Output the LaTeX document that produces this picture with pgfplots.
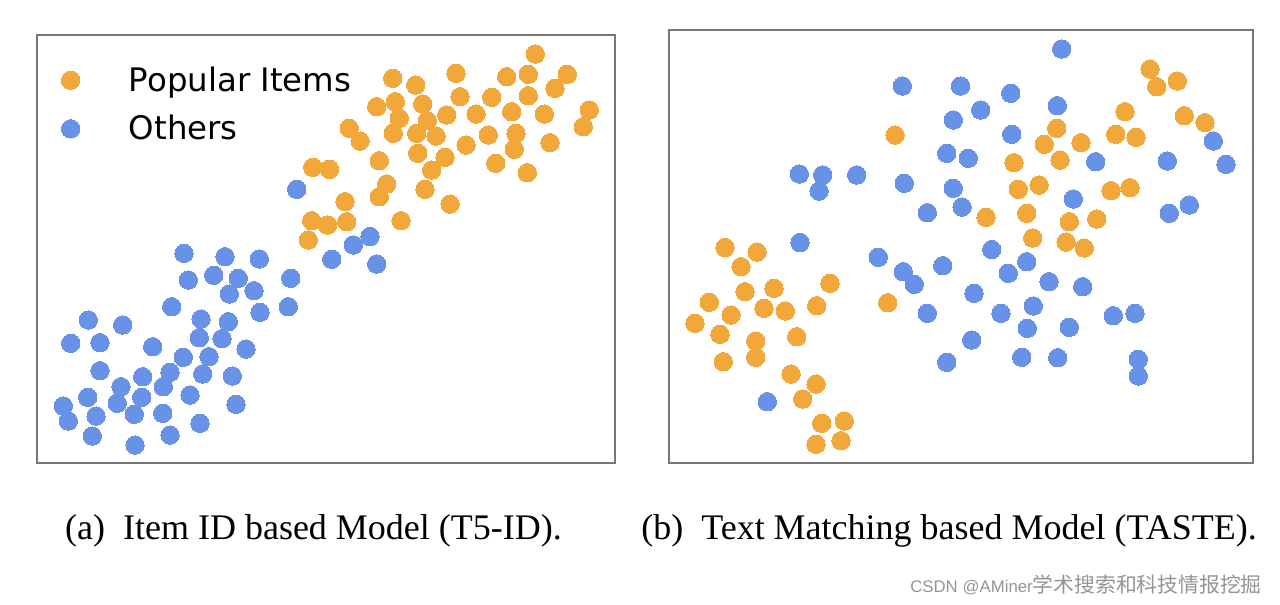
\documentclass[border=0pt]{standalone}
\usepackage{pgfplots}
\pgfplotsset{compat=1.18}
\usepackage{fontspec}
\setmainfont{Liberation Serif}
\newfontfamily\dejavu{DejaVu Sans}
\newfontfamily\arial{Liberation Sans}
\newfontfamily\cjk{Noto Sans CJK SC}
\definecolor{popC}{RGB}{241,167,57}
\definecolor{othC}{RGB}{104,146,232}
\definecolor{frameC}{RGB}{120,120,120}
\pgfplotsset{
  panel/.style={
    scale only axis, y dir=reverse,
    xtick=\empty, ytick=\empty,
    axis line style={frameC, line width=1pt},
    clip=false,
  },
  pop/.style={color=popC, only marks, mark=*, mark size=4.6pt,
    mark options={solid, fill=popC, draw=popC, line width=0pt}},
  oth/.style={color=othC, only marks, mark=*, mark size=4.6pt,
    mark options={solid, fill=othC, draw=othC, line width=0pt}},
}
\begin{document}
\begin{tikzpicture}
\useasboundingbox (0pt,0pt) rectangle (640pt,-302.5pt);
% ---------- panel (a) ----------
\begin{axis}[panel,
  anchor=north west, at={(18.5pt,-17.5pt)},
  width=289pt, height=214pt,
  xmin=37, xmax=615, ymin=35, ymax=463,
  legend style={at={(axis cs:55,58)}, anchor=north west, draw=none, fill=none,
    font=\dejavu\fontsize{16.2}{19}\selectfont, row sep=6.5pt,
    /tikz/every odd column/.append style={column sep=22.5pt}},
  legend cell align=left,
]
\addplot[pop] coordinates {
(312.7,167.3) (329.5,169.3) (311.7,220.7) (327.5,225) (308.3,240)
(535.3,54) (456,73.3) (506.7,76.7) (528.3,74.3) (567.3,74.3) (392.7,78.3) (415.7,85)
(555,88.3) (460,96.7) (491.7,97.3) (528.3,95.7) (376.7,106.7) (395.3,101.7) (422.7,104)
(446.7,115) (476,114) (511.7,111.7) (544.3,114) (589.3,110) (399.3,118.3) (427.3,120.7)
(583.3,126.7) (349.3,128.3) (360,141) (393.3,133.3) (416.7,133.3) (436,136) (466,145)
(488.3,135) (516,133.3) (514.3,149.3) (550,142.7) (379.3,160.7) (417.7,153.3) (445,157.3)
(431.7,170) (495.7,163.3) (527.3,172.7) (386.7,184) (379.3,196.7) (425,189.3) (450,204)
(345,201.7) (346.7,221.7) (401,220.7)
};
\addlegendentry{Popular Items}
\addplot[oth] coordinates {
(296.7,189.3) (370,236.5) (353.3,245) (331.7,259.3) (376.7,264)
(184,253.3) (225,256.7) (259.3,259) (188.3,280) (213.7,275.3) (238.3,278.3) (290.7,278.3)
(229.3,294) (254,290.7) (171.7,306.7) (260,312.3) (288.3,306.7) (88.3,320) (122.7,325)
(201,319) (228.3,321.7) (70.7,343.3) (100,342.7) (152.7,346.7) (199.3,337.7) (222,338.7)
(246,349) (183.3,357.3) (209,356.7) (100,370.7) (142.7,376.7) (170,372.3) (202.7,374)
(232.3,376) (121,386.7) (163.3,386.7) (87.7,397.3) (141.7,397.3) (190,395) (117.3,403.3)
(63.3,406) (96,416) (134.3,414.3) (162.7,413.3) (236,404.3) (68.3,421) (200,423.3)
(92.3,436) (170,435) (135,445)
};
\addlegendentry{Others}
\end{axis}
% ---------- panel (b) ----------
\begin{axis}[panel,
  anchor=north west, at={(334.5pt,-15pt)},
  width=291.75pt, height=216.5pt,
  xmin=669, xmax=1252.5, ymin=30, ymax=463,
]
\addplot[pop] coordinates {
(895,135) (725,247.5) (757,252) (1150,69) (1156.7,86.7) (1177.3,81) (1125,111.7)
(1184.3,115.7) (1205,122.7) (1056.7,128.3) (1115.7,134.3) (1136,137.3) (1044.3,144.3)
(1081,142.7) (1014,162.7) (1060,160) (1018.3,189.3) (1039,185) (1111,190.7) (1130,187.7)
(986,217.3) (1026.7,213.3) (1069.3,221.7) (1096.7,219) (1032.7,238) (1066,242) (1084.2,248)
(741,266.7) (745,291.7) (774,288.3) (830,283.3) (709.3,302.3) (731,315) (764,308.3)
(785.3,311) (816.7,305.7) (887.7,302.7) (695,323.3) (720,334.3) (755.7,341) (796.7,336.7)
(755.7,357.3) (723.3,361.7) (791,374) (816,384) (802.7,399) (821.7,423.3) (844.3,421)
(816,444.3) (841,440.7)
};
\addplot[oth] coordinates {
(902.3,86) (960.5,86) (953.3,120) (946.7,153.3) (799.3,174) (822.7,175) (856.7,175)
(819,191) (904.3,183.3) (953.3,188.3) (962,207) (927.3,212.7) (800,242.5) (878.3,257.3)
(1061.7,49) (1010.7,93.3) (980.7,110) (1057.3,105.7) (1011.7,134.3) (1213.3,141)
(968.3,158.3) (1095.7,161.7) (1167.3,161) (1226,164.3) (1073.3,199) (1189.3,205)
(1169.3,213.3) (991.7,249.5) (942.7,265.7) (1026.7,261.7) (1008.3,273.3) (1049,281.7)
(1082.7,286.7) (974,293.3) (1033.3,306) (1001,313.3) (1113.3,315.7) (1135,313.3)
(1027.3,328.3) (1069.3,327.3) (971.7,340) (946.7,362.3) (1021.7,357.3) (1057.7,357.7)
(1138.3,359.3) (1138.3,376) (903.3,271.7) (914.3,284.3) (927.3,313.3) (767.3,401.7)
};
\end{axis}
% ---------- captions ----------
\node[font=\fontsize{18}{20}\selectfont, inner sep=0pt] at (156.75pt,-265.5pt)
  {(a)\hspace{0.5em}Item ID based Model (T5-ID).};
\node[font=\fontsize{18}{20}\selectfont, inner sep=0pt] at (474.5pt,-265.5pt)
  {(b)\hspace{0.5em}Text Matching based Model (TASTE).};
\node[text=black!42, inner sep=0pt, anchor=base east]
  at (631pt,-296.2pt) {\arial\fontsize{8.4}{9}\selectfont CSDN @AMiner\cjk\fontsize{10.4}{12}\selectfont 学术搜索和科技情报挖掘};
\end{tikzpicture}
\end{document}
